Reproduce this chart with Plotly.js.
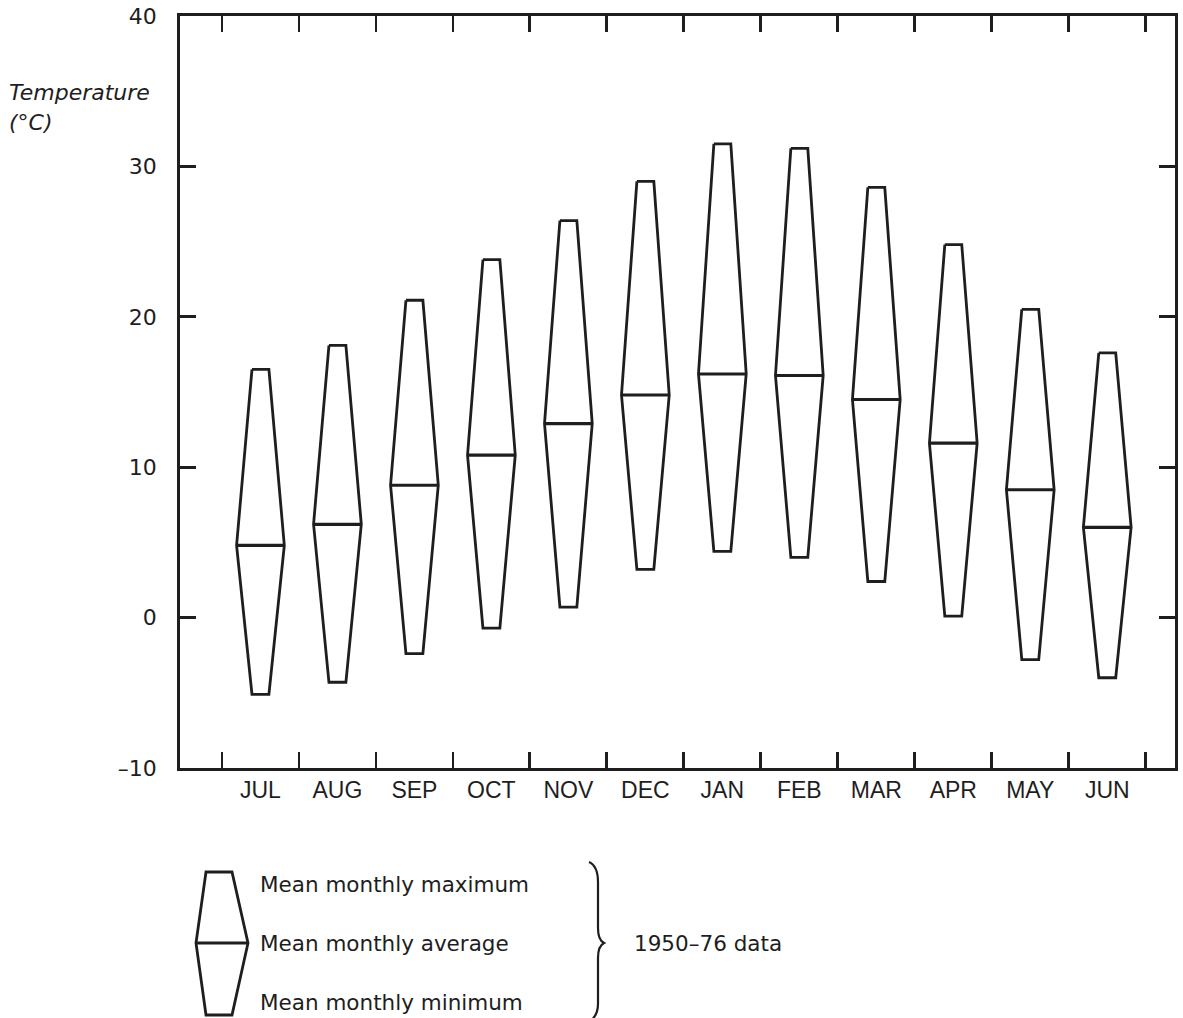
<!DOCTYPE html>
<html><head><meta charset="utf-8">
<script src="https://cdn.plot.ly/plotly-3.0.1.min.js"></script>
<style>html,body{margin:0;padding:0;background:#fff;}#chart{width:1183px;height:1018px;}</style>
</head><body><div id="chart"></div>
<script>
const months = ['JUL','AUG','SEP','OCT','NOV','DEC','JAN','FEB','MAR','APR','MAY','JUN'];
const tMax = [16.5, 18.1, 21.1, 23.8, 26.4, 29.0, 31.5, 31.2, 28.6, 24.8, 20.5, 17.6];
const tAvg = [4.8, 6.2, 8.8, 10.8, 12.9, 14.8, 16.2, 16.1, 14.5, 11.6, 8.5, 6.0];
const tMin = [-5.1, -4.3, -2.4, -0.7, 0.7, 3.2, 4.4, 4.0, 2.4, 0.1, -2.8, -4.0];
const yTickVals = [-10, 0, 10, 20, 30, 40];
const yTickText = ['\u201310', '0', '10', '20', '30', '40'];
const legendLabels = ['Mean monthly maximum', 'Mean monthly average', 'Mean monthly minimum'];
const sourceNote = '1950\u201376 data';

const INK = '#1e1e1e';
const LW = 2.8;
const HW_END = 0.11, HW_MID = 0.31;
const FONT = 'DejaVu Sans, Arial, sans-serif';
const FONT2 = 'Liberation Sans, Arial, sans-serif';

const ox = [], oy = [], ax = [], ay = [];
months.forEach((m, i) => {
  const c = i + 1;
  ox.push(c - HW_END, c + HW_END, c + HW_MID, c + HW_END, c - HW_END, c - HW_MID, c - HW_END, null);
  oy.push(tMax[i], tMax[i], tAvg[i], tMin[i], tMin[i], tAvg[i], tMax[i], null);
  ax.push(c - HW_MID, c + HW_MID, null);
  ay.push(tAvg[i], tAvg[i], null);
});

const traces = [
  {type: 'scatter', mode: 'lines', x: ox, y: oy, line: {color: INK, width: LW}, hoverinfo: 'skip', showlegend: false, xaxis: 'x', yaxis: 'y'},
  {type: 'scatter', mode: 'lines', x: ax, y: ay, line: {color: INK, width: LW + 0.3}, hoverinfo: 'skip', showlegend: false, xaxis: 'x2', yaxis: 'y'}
];

const W = 1183, H = 1018, L = 180, R = 8, T = 16, B = 250;
const pw = W - L - R, ph = H - T - B;
const px = (x) => (x - L) / pw;
const py = (y) => (H - B - y) / ph;
const P = (x, y) => px(x).toFixed(5) + ',' + py(y).toFixed(5);

const xRange = [-0.045, 12.88];
const bounds = months.map((m, i) => i + 0.5).concat([months.length + 0.5]);

const glyph = 'M ' + P(206, 872) + ' L ' + P(232, 872) + ' L ' + P(248, 943) + ' L ' + P(232, 1015) +
  ' L ' + P(206, 1015) + ' L ' + P(196, 943) + ' Z';
const glyphMid = 'M ' + P(196, 943) + ' L ' + P(248, 943);
const brace = 'M ' + P(589, 862) + ' Q ' + P(598, 866) + ' ' + P(598, 882) + ' L ' + P(598, 928) +
  ' Q ' + P(598, 940) + ' ' + P(604, 943) + ' Q ' + P(598, 946) + ' ' + P(598, 958) +
  ' L ' + P(598, 1004) + ' Q ' + P(598, 1016) + ' ' + P(589, 1022);

const annotations = [
  {xref: 'paper', yref: 'paper', x: px(7), y: py(92), xanchor: 'left', yanchor: 'middle', showarrow: false,
   text: '<i>Temperature</i>', font: {family: FONT, size: 22, color: INK}},
  {xref: 'paper', yref: 'paper', x: px(7), y: py(123), xanchor: 'left', yanchor: 'middle', showarrow: false,
   text: '<i>(°C)</i>', font: {family: FONT, size: 22, color: INK}},
  {xref: 'paper', yref: 'paper', x: px(632), y: py(943), xanchor: 'left', yanchor: 'middle', showarrow: false,
   text: sourceNote, font: {family: FONT, size: 21.5, color: INK}}
];
const legendY = [884, 943, 1002];
legendLabels.forEach((t, i) => annotations.push({
  xref: 'paper', yref: 'paper', x: px(258), y: py(legendY[i]), xanchor: 'left', yanchor: 'middle', showarrow: false,
  text: t, font: {family: FONT, size: 21.5, color: INK}
}));

const layout = {
  width: W, height: H,
  margin: {l: L, r: R, t: T, b: B, pad: 0},
  paper_bgcolor: '#fff', plot_bgcolor: '#fff',
  showlegend: false,
  xaxis: {range: xRange, tickmode: 'array', tickvals: bounds, showticklabels: false,
    ticks: 'inside', ticklen: 16, tickwidth: LW, tickcolor: INK,
    showline: true, linecolor: INK, linewidth: LW, mirror: 'ticks',
    showgrid: false, zeroline: false, fixedrange: true},
  xaxis2: {range: xRange, overlaying: 'x', anchor: 'y', side: 'bottom', tickmode: 'array',
    tickvals: months.map((m, i) => i + 1), ticktext: months, ticks: '', ticklabelstandoff: 6,
    showline: false, showgrid: false, zeroline: false, tickfont: {family: FONT2, size: 23, color: INK}},
  yaxis: {range: [-10, 40], tickmode: 'array', tickvals: yTickVals, ticktext: yTickText,
    ticks: 'inside', ticklen: 16, tickwidth: LW, tickcolor: INK, ticklabelstandoff: 16,
    showline: true, linecolor: INK, linewidth: LW, mirror: 'ticks',
    showgrid: false, zeroline: false, tickfont: {family: FONT, size: 22, color: INK}},
  shapes: [
    {type: 'path', xref: 'paper', yref: 'paper', path: glyph, line: {color: INK, width: LW}},
    {type: 'path', xref: 'paper', yref: 'paper', path: glyphMid, line: {color: INK, width: LW}},
    {type: 'path', xref: 'paper', yref: 'paper', path: brace, line: {color: INK, width: 2.2}}
  ],
  annotations: annotations
};

Plotly.newPlot('chart', traces, layout, {displayModeBar: false, staticPlot: true});
</script></body></html>
